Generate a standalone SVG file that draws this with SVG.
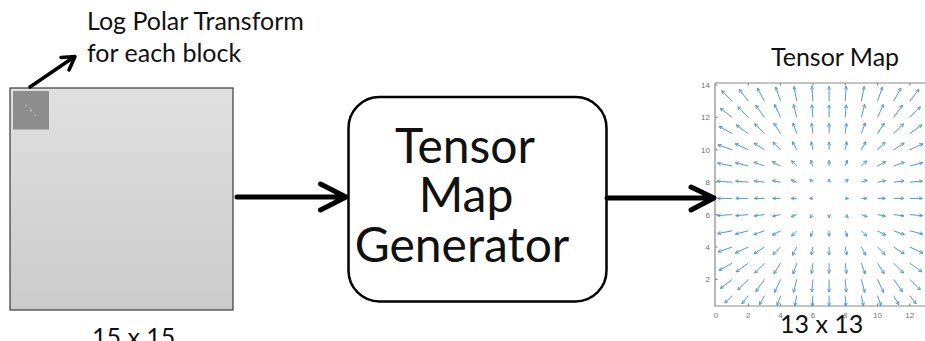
<svg xmlns="http://www.w3.org/2000/svg" width="925" height="341" viewBox="0 0 925 341">
<style>
.lbl{font-family:Lato,"Open Sans","Liberation Sans",sans-serif;font-size:25px;fill:#111}
.big{font-family:Lato,"Open Sans","Liberation Sans",sans-serif;font-size:48px;fill:#111;text-anchor:middle}
.tk{font-family:"Liberation Sans",Arial,sans-serif;font-size:8px;fill:#707070}
.conn{fill:none;stroke:#000;stroke-linecap:round;stroke-linejoin:round}
.q{fill:none;stroke:#4593d6;stroke-width:0.95}
.ax{fill:none;stroke:#8a8a8a;stroke-width:1.2}
</style>
<defs>
<linearGradient id="gr" x1="0" y1="0" x2="0" y2="1">
<stop offset="0" stop-color="#e0e0e0"/>
<stop offset="1" stop-color="#cbcbcb"/>
</linearGradient>
<marker id="ah" viewBox="0 0 6 6" refX="5.5" refY="3" markerWidth="4" markerHeight="4" orient="auto" markerUnits="userSpaceOnUse">
<path d="M0.5 0.5L5.5 3L0.5 5.5" fill="none" stroke="#4593d6" stroke-width="1.2"/>
</marker>
</defs>
<rect width="925" height="341" fill="#fff"/>

<g id="image15">
<rect x="10" y="88" width="223" height="222" fill="url(#gr)" stroke="#3a3a3a" stroke-width="1.2"/>
<rect x="13" y="91" width="36" height="38.5" fill="#8e8e8e"/>
<circle cx="26" cy="105.5" r="0.9" fill="#b5b5b5"/>
<circle cx="31" cy="110.5" r="1" fill="#c8c8c8"/>
<circle cx="35" cy="115.5" r="0.9" fill="#b5b5b5"/>
<text class="lbl" x="92" y="346">15 x 15</text>
</g>

<g id="annotation">
<text class="lbl" x="87" y="30">Log Polar Transform</text>
<text class="lbl" x="87" y="62">for each block</text>
</g>

<g id="generator">
<rect x="348.5" y="97" width="258" height="204.5" rx="31" ry="31" fill="#fff" stroke="#000" stroke-width="2.5"/>
<text class="big" x="465" y="163">Tensor</text>
<text class="big" x="466" y="212">Map</text>
<text class="big" x="462" y="262">Generator</text>
</g>

<g id="tensormap">
<text class="lbl" x="771" y="66">Tensor Map</text>
<path class="ax" d="M715 83V306H925M715 83H925"/>
<path class="ax" stroke-width="0.8" d="M715 85h2.5M715 117.4h2.5M715 149.8h2.5M715 182.2h2.5M715 214.6h2.5M715 247h2.5M715 279.4h2.5M748.3 306v-2.5M780.6 306v-2.5M812.9 306v-2.5M845.2 306v-2.5M877.5 306v-2.5M909.8 306v-2.5M748.3 83v2.5M780.6 83v2.5M812.9 83v2.5M845.2 83v2.5M877.5 83v2.5M909.8 83v2.5"/>
<g class="tk" text-anchor="end">
<text x="710" y="88">14</text>
<text x="710" y="120.4">12</text>
<text x="710" y="152.8">10</text>
<text x="710" y="185.2">8</text>
<text x="710" y="217.6">6</text>
<text x="710" y="250">4</text>
<text x="710" y="282.4">2</text>
</g>
<g class="tk" text-anchor="middle">
<text x="716" y="318">0</text>
<text x="748.3" y="318">2</text>
<text x="780.6" y="318">4</text>
<text x="812.9" y="318">6</text>
<text x="845.2" y="318">8</text>
<text x="877.5" y="318">10</text>
<text x="909.8" y="318">12</text>
</g>
<g class="q" marker-end="url(#ah)">
<path d="M732.2 101.2l-10.6-10.6"/><path d="M748.3 101.2l-9.1-11.9"/><path d="M764.5 101.2l-7.2-13.2"/><path d="M780.6 101.2l-5-14.2"/><path d="M796.8 101.2l-2.8-14.7"/><path d="M812.9 101.2l-1-15"/><path d="M829.1 101.2l0-14.8"/><path d="M845.2 101.2l1-15"/><path d="M861.4 101.2l2.8-14.7"/><path d="M877.5 101.2l5-14.2"/><path d="M893.7 101.2l7.2-13.2"/><path d="M909.8 101.2l9.1-11.9"/>
<path d="M732.2 117.4l-11.9-9.1"/><path d="M748.3 117.4l-10.6-10.6"/><path d="M764.5 117.4l-8.7-12.2"/><path d="M780.6 117.4l-6.1-13.1"/><path d="M796.8 117.4l-3.3-13"/><path d="M812.9 117.4l-1.1-12.7"/><path d="M829.1 117.4l0-12.5"/><path d="M845.2 117.4l1.1-12.7"/><path d="M861.4 117.4l3.3-13"/><path d="M877.5 117.4l6.1-13.1"/><path d="M893.7 117.4l8.7-12.2"/><path d="M909.8 117.4l10.6-10.6"/>
<path d="M732.2 133.6l-13.2-7.2"/><path d="M748.3 133.6l-12.2-8.7"/><path d="M764.5 133.6l-9.9-9.9"/><path d="M780.6 133.6l-6.8-10.5"/><path d="M796.8 133.6l-3.8-10.7"/><path d="M812.9 133.6l-1.3-10.4"/><path d="M829.1 133.6l0-10.2"/><path d="M845.2 133.6l1.3-10.4"/><path d="M861.4 133.6l3.8-10.7"/><path d="M877.5 133.6l6.8-10.5"/><path d="M893.7 133.6l9.9-9.9"/><path d="M909.8 133.6l12.2-8.7"/>
<path d="M732.2 149.8l-14.2-5"/><path d="M748.3 149.8l-13.1-6.1"/><path d="M764.5 149.8l-10.5-6.8"/><path d="M780.6 149.8l-7.6-7.6"/><path d="M796.8 149.8l-4.4-8.2"/><path d="M812.9 149.8l-1.6-8.1"/><path d="M829.1 149.8l0-7.9"/><path d="M845.2 149.8l1.6-8.1"/><path d="M861.4 149.8l4.4-8.2"/><path d="M877.5 149.8l7.6-7.6"/><path d="M893.7 149.8l10.5-6.8"/><path d="M909.8 149.8l13.1-6.1"/>
<path d="M732.2 166l-14.7-2.8"/><path d="M748.3 166l-13-3.3"/><path d="M764.5 166l-10.7-3.8"/><path d="M780.6 166l-8.2-4.4"/><path d="M796.8 166l-5.3-5.3"/><path d="M812.9 166l-2.1-5.8"/><path d="M829.1 166l0-5.6"/><path d="M845.2 166l2.1-5.8"/><path d="M861.4 166l5.3-5.3"/><path d="M877.5 166l8.2-4.4"/><path d="M893.7 166l10.7-3.8"/><path d="M909.8 166l13-3.3"/>
<path d="M732.2 182.2l-15-1"/><path d="M748.3 182.2l-12.7-1.1"/><path d="M764.5 182.2l-10.4-1.3"/><path d="M780.6 182.2l-8.1-1.6"/><path d="M796.8 182.2l-5.8-2.1"/><path d="M812.9 182.2l-3-3"/><path d="M829.1 182.2l0-3.3"/><path d="M845.2 182.2l3-3"/><path d="M861.4 182.2l5.8-2.1"/><path d="M877.5 182.2l8.1-1.6"/><path d="M893.7 182.2l10.4-1.3"/><path d="M909.8 182.2l12.7-1.1"/>
<path d="M732.2 198.4l-14.8 0"/><path d="M748.3 198.4l-12.5 0"/><path d="M764.5 198.4l-10.2 0"/><path d="M780.6 198.4l-7.9 0"/><path d="M796.8 198.4l-5.6 0"/><path d="M812.9 198.4l-3.3 0"/><path d="M845.2 198.4l3.3 0"/><path d="M861.4 198.4l5.6 0"/><path d="M877.5 198.4l7.9 0"/><path d="M893.7 198.4l10.2 0"/><path d="M909.8 198.4l12.5 0"/>
<path d="M732.2 214.6l-15 1"/><path d="M748.3 214.6l-12.7 1.1"/><path d="M764.5 214.6l-10.4 1.3"/><path d="M780.6 214.6l-8.1 1.6"/><path d="M796.8 214.6l-5.8 2.1"/><path d="M812.9 214.6l-3 3"/><path d="M829.1 214.6l0 3.3"/><path d="M845.2 214.6l3 3"/><path d="M861.4 214.6l5.8 2.1"/><path d="M877.5 214.6l8.1 1.6"/><path d="M893.7 214.6l10.4 1.3"/><path d="M909.8 214.6l12.7 1.1"/>
<path d="M732.2 230.8l-14.7 2.8"/><path d="M748.3 230.8l-13 3.3"/><path d="M764.5 230.8l-10.7 3.8"/><path d="M780.6 230.8l-8.2 4.4"/><path d="M796.8 230.8l-5.3 5.3"/><path d="M812.9 230.8l-2.1 5.8"/><path d="M829.1 230.8l0 5.6"/><path d="M845.2 230.8l2.1 5.8"/><path d="M861.4 230.8l5.3 5.3"/><path d="M877.5 230.8l8.2 4.4"/><path d="M893.7 230.8l10.7 3.8"/><path d="M909.8 230.8l13 3.3"/>
<path d="M732.2 247l-14.2 5"/><path d="M748.3 247l-13.1 6.1"/><path d="M764.5 247l-10.5 6.8"/><path d="M780.6 247l-7.6 7.6"/><path d="M796.8 247l-4.4 8.2"/><path d="M812.9 247l-1.6 8.1"/><path d="M829.1 247l0 7.9"/><path d="M845.2 247l1.6 8.1"/><path d="M861.4 247l4.4 8.2"/><path d="M877.5 247l7.6 7.6"/><path d="M893.7 247l10.5 6.8"/><path d="M909.8 247l13.1 6.1"/>
<path d="M732.2 263.2l-13.2 7.2"/><path d="M748.3 263.2l-12.2 8.7"/><path d="M764.5 263.2l-9.9 9.9"/><path d="M780.6 263.2l-6.8 10.5"/><path d="M796.8 263.2l-3.8 10.7"/><path d="M812.9 263.2l-1.3 10.4"/><path d="M829.1 263.2l0 10.2"/><path d="M845.2 263.2l1.3 10.4"/><path d="M861.4 263.2l3.8 10.7"/><path d="M877.5 263.2l6.8 10.5"/><path d="M893.7 263.2l9.9 9.9"/><path d="M909.8 263.2l12.2 8.7"/>
<path d="M732.2 279.4l-11.9 9.1"/><path d="M748.3 279.4l-10.6 10.6"/><path d="M764.5 279.4l-8.7 12.2"/><path d="M780.6 279.4l-6.1 13.1"/><path d="M796.8 279.4l-3.3 13"/><path d="M812.9 279.4l-1.1 12.7"/><path d="M829.1 279.4l0 12.5"/><path d="M845.2 279.4l1.1 12.7"/><path d="M861.4 279.4l3.3 13"/><path d="M877.5 279.4l6.1 13.1"/><path d="M893.7 279.4l8.7 12.2"/><path d="M909.8 279.4l10.6 10.6"/>
<path d="M732.2 295.6l-7.4 7.4"/><path d="M748.3 295.6l-6.4 8.3"/><path d="M764.5 295.6l-5 9.2"/><path d="M780.6 295.6l-3.5 9.9"/><path d="M796.8 295.6l-2 10.3"/><path d="M812.9 295.6l-0.7 10.5"/><path d="M829.1 295.6l0 10.4"/><path d="M845.2 295.6l0.7 10.5"/><path d="M861.4 295.6l2 10.3"/><path d="M877.5 295.6l3.5 9.9"/><path d="M893.7 295.6l5 9.2"/><path d="M909.8 295.6l6.4 8.3"/>
</g>
<text class="lbl" x="780" y="333">13 x 13</text>
</g>

<g id="connectors">
<path class="conn" stroke-width="3.5" d="M30 87L74 57M61 57.5L75 56.5L69 70"/>
<path class="conn" stroke-width="5" d="M237 197H345M320.5 184L346 197L320.5 210"/>
<path class="conn" stroke-width="5" d="M607 198H712M691 187L714 198L691 210"/>
</g>
</svg>
